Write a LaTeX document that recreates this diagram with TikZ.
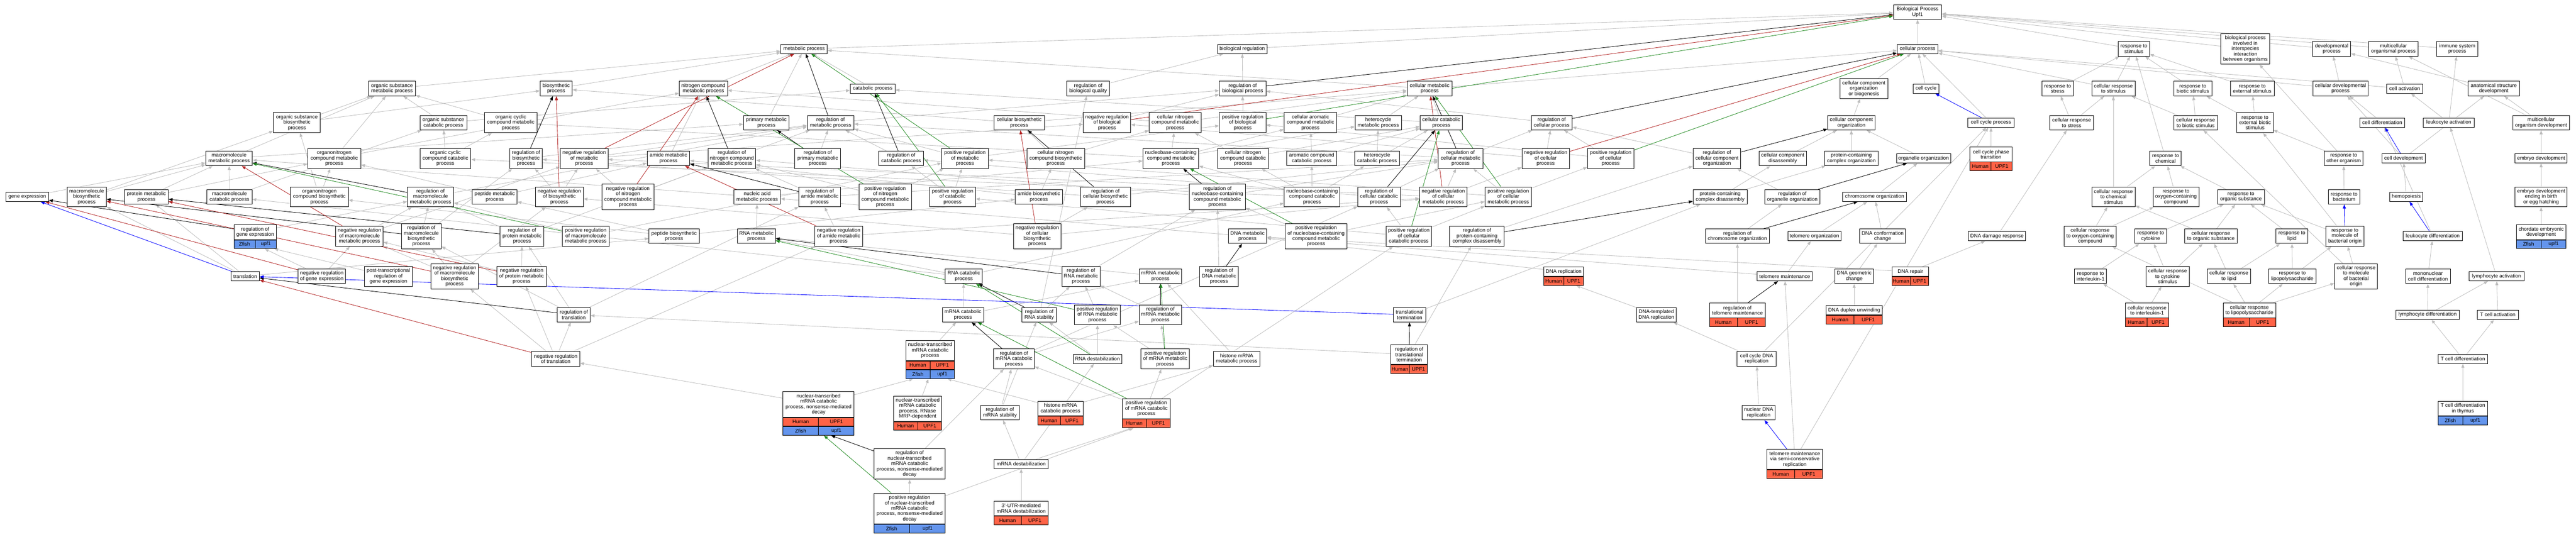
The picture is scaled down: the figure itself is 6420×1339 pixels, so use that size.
\documentclass[tikz,border=0pt]{standalone}
\usepackage{fontspec}
\setmainfont{Liberation Sans}
\usepackage{tikz}
\usetikzlibrary{arrows.meta,calc,backgrounds}
\definecolor{humred}{HTML}{FF6347}
\definecolor{fishblue}{HTML}{6495ED}
\definecolor{isagray}{HTML}{BEBEBE}
\definecolor{negred}{HTML}{B22222}
\definecolor{posgreen}{HTML}{228B22}
\def\termfont{\fontsize{12.8}{13.4}\selectfont}
\newcommand\goterm[6]{\node[term,minimum width=#4,minimum height={9.6+13.4*#5}] (#1) at (#2,#3) {#6};}
\newcommand\gorow[6]{%
  \node[#3,minimum width=#4,anchor=north] (#2) at (#1) {};
  \draw[line width=1.2pt] (#2.north) -- (#2.south);
  \path ($(#2.west)!0.5!(#2.center)$) node[font=\termfont] {#5};
  \path ($(#2.center)!0.5!(#2.east)$) node[font=\termfont] {#6};}
\newcommand\hrow[3]{\gorow{#1}{#2}{hum}{#3}{Human}{UPF1}}
\newcommand\zrow[3]{\gorow{#1}{#2}{fish}{#3}{Zfish}{upf1}}
\tikzset{
  term/.style={draw,line width=1.2pt,fill=white,align=center,inner sep=1pt,font=\termfont},
  hum/.style={draw,line width=1.2pt,fill=humred,minimum height=21.5,inner sep=0pt},
  fish/.style={draw,line width=1.2pt,fill=fishblue,minimum height=21.5,inner sep=0pt},
  isa/.style={color=isagray,line width=1.1pt,-{Triangle[length=10pt,width=7.5pt]}},
  regs/.style={isa,color=black},
  negreg/.style={isa,color=negred},
  posreg/.style={isa,color=posgreen},
  partof/.style={isa,color=blue}
}
\begin{document}
\begin{tikzpicture}[x=1pt,y=-1pt]
\useasboundingbox (0,0) rectangle (6420,1339);

\goterm{bp}{4779}{30}{120}{2}{Biological Process\\Upf1}

\goterm{metab}{2004}{122}{116}{1}{metabolic process}
\goterm{bioreg}{3096}{122}{123}{1}{biological regulation}
\goterm{cellproc}{4779}{122}{101}{1}{cellular process}
\goterm{respstim}{5318}{122}{78}{2}{response to\\stimulus}
\goterm{interspecies}{5596}{122}{122}{5}{biological process\\involved in\\interspecies\\interaction\\between organisms}
\goterm{devproc}{5811}{122}{95}{2}{developmental\\process}
\goterm{multiorgproc}{5965}{122}{123}{2}{multicellular\\organismal process}
\goterm{immsys}{6124}{122}{103}{2}{immune system\\process}

\goterm{orgsubmet}{977}{221}{116}{2}{organic substance\\metabolic process}
\goterm{biosyn}{1386}{221}{80}{2}{biosynthetic\\process}
\goterm{nitmet}{1753}{221}{120}{2}{nitrogen compound\\metabolic process}
\goterm{catab}{2175}{221}{112}{1}{catabolic process}
\goterm{regbioqual}{2712}{221}{106}{2}{regulation of\\biological quality}
\goterm{regbioproc}{3097}{221}{116}{2}{regulation of\\biological process}
\goterm{cellmet}{3563}{221}{112}{2}{cellular metabolic\\process}
\goterm{ccorgbio}{4645}{221}{119}{3}{cellular component\\organization\\or biogenesis}
\goterm{cellcycle}{4800}{221}{65}{1}{cell cycle}
\goterm{respstress}{5128}{221}{79}{2}{response to\\stress}
\goterm{cellrespstim}{5267}{221}{108}{2}{cellular response\\to stimulus}
\goterm{respbiotic}{5465}{221}{95}{2}{response to\\biotic stimulus}
\goterm{respext}{5613}{221}{109}{2}{response to\\external stimulus}
\goterm{celldevproc}{5833}{221}{138}{2}{cellular developmental\\process}
\goterm{cellact}{5993}{221}{90}{1}{cell activation}
\goterm{anatdev}{6215}{221}{128}{2}{anatomical structure\\development}

\goterm{orgsubbiosyn}{740}{306}{117}{3}{organic substance\\biosynthetic\\process}
\goterm{orgsubcat}{1105}{306}{117}{2}{organic substance\\catabolic process}
\goterm{orgcycmet}{1273}{306}{130}{3}{organic cyclic\\compound metabolic\\process}
\goterm{primmet}{1910}{306}{114}{2}{primary metabolic\\process}
\goterm{regmet}{2070}{306}{116}{2}{regulation of\\metabolic process}
\goterm{cellbiosyn}{2540}{306}{126}{2}{cellular biosynthetic\\process}
\goterm{negregbio}{2759}{306}{118}{3}{negative regulation\\of biological\\process}
\goterm{cellnitmet}{2929}{306}{130}{3}{cellular nitrogen\\compound metabolic\\process}
\goterm{posregbio}{3097}{306}{116}{3}{positive regulation\\of biological\\process}
\goterm{cellaromet}{3266}{306}{131}{3}{cellular aromatic\\compound metabolic\\process}
\goterm{hetmet}{3435}{306}{116}{2}{heterocycle\\metabolic process}
\goterm{cellcat}{3592}{306}{106}{2}{cellular catabolic\\process}
\goterm{regcellproc}{3867}{306}{102}{2}{regulation of\\cellular process}
\goterm{ccorg}{4614}{306}{118}{2}{cellular component\\organization}
\goterm{cellcycproc}{4962}{306}{115}{1}{cell cycle process}
\goterm{cellrespstress}{5163}{306}{109}{2}{cellular response\\to stress}
\goterm{cellrespbiotic}{5472}{306}{109}{2}{cellular response\\to biotic stimulus}
\goterm{respextbiotic}{5620}{306}{90}{3}{response to\\external biotic\\stimulus}
\goterm{celldiff}{5937}{306}{112}{1}{cell differentiation}
\goterm{leukact}{6103}{306}{127}{1}{leukocyte activation}
\goterm{multiorgdev}{6333}{306}{141}{2}{multicellular\\organism development}

\goterm{macmet}{571}{395}{116}{2}{macromolecule\\metabolic process}
\goterm{orgnitmet}{833}{395}{132}{3}{organonitrogen\\compound metabolic\\process}
\goterm{orgcyccat}{1110}{395}{127}{3}{organic cyclic\\compound catabolic\\process}
\goterm{regbiosyn}{1311}{395}{81}{3}{regulation of\\biosynthetic\\process}
\goterm{negregmet}{1456}{395}{119}{3}{negative regulation\\of metabolic\\process}
\goterm{amidemet}{1666}{395}{106}{2}{amide metabolic\\process}
\goterm{regnitmet}{1824}{395}{119}{3}{regulation of\\nitrogen compound\\metabolic process}
\goterm{regprimmet}{2038}{395}{114}{3}{regulation of\\primary metabolic\\process}
\goterm{regcat}{2246}{395}{112}{2}{regulation of\\catabolic process}
\goterm{posregmet}{2405}{395}{116}{3}{positive regulation\\of metabolic\\process}
\goterm{cellnitbiosyn}{2631}{395}{144}{3}{cellular nitrogen\\compound biosynthetic\\process}
\goterm{nucmet}{2918}{395}{139}{3}{nucleobase-containing\\compound metabolic\\process}
\goterm{cellnitcat}{3098}{395}{127}{3}{cellular nitrogen\\compound catabolic\\process}
\goterm{arocat}{3269}{395}{124}{2}{aromatic compound\\catabolic process}
\goterm{hetcat}{3432}{395}{112}{2}{heterocycle\\catabolic process}
\goterm{regcellmet}{3640}{395}{111}{3}{regulation of\\cellular metabolic\\process}
\goterm{negregcell}{3852}{395}{118}{3}{negative regulation\\of cellular\\process}
\goterm{posregcell}{4014}{395}{115}{3}{positive regulation\\of cellular\\process}
\goterm{regccorg}{4279}{395}{119}{3}{regulation of\\cellular component\\organization}
\goterm{ccdis}{4443}{395}{118}{2}{cellular component\\disassembly}
\goterm{pcorg}{4614}{395}{134}{2}{protein-containing\\complex organization}
\goterm{organorg}{4794}{395}{135}{1}{organelle organization}
\goterm{cellcycphase}{4962}{385}{106}{2}{cell cycle phase\\transition}
\hrow{cellcycphase.south}{cellcycphaseh}{106}
\goterm{respchem}{5397}{395}{78}{2}{response to\\chemical}
\goterm{respother}{5841}{395}{96}{2}{response to\\other organism}
\goterm{celldev}{5990}{395}{108}{1}{cell development}
\goterm{embdev}{6333}{395}{130}{1}{embryo development}

\goterm{geneexp}{68}{491}{106}{1}{gene expression}
\goterm{macbiosyn}{216}{491}{98}{3}{macromolecule\\biosynthetic\\process}
\goterm{protmet}{365}{491}{109}{2}{protein metabolic\\process}
\goterm{maccat}{572}{491}{112}{2}{macromolecule\\catabolic process}
\goterm{orgnitbiosyn}{796}{491}{144}{3}{organonitrogen\\compound biosynthetic\\process}
\goterm{regmacmet}{1073}{491}{115}{3}{regulation of\\macromolecule\\metabolic process}
\goterm{peptmet}{1233}{491}{112}{2}{peptide metabolic\\process}
\goterm{negregbiosyn}{1394}{491}{119}{3}{negative regulation\\of biosynthetic\\process}
\goterm{negregnitmet}{1565}{491}{130}{4}{negative regulation\\of nitrogen\\compound metabolic\\process}
\goterm{nucacidmet}{1887}{491}{116}{2}{nucleic acid\\metabolic process}
\goterm{regamidemet}{2043}{491}{104}{3}{regulation of\\amide metabolic\\process}
\goterm{posregnitmet}{2206}{491}{131}{4}{positive regulation\\of nitrogen\\compound metabolic\\process}
\goterm{posregcat}{2374}{491}{114}{3}{positive regulation\\of catabolic\\process}
\goterm{amidebiosyn}{2589}{491}{118}{2}{amide biosynthetic\\process}
\goterm{regcellbiosyn}{2755}{491}{125}{3}{regulation of\\cellular biosynthetic\\process}
\goterm{regnucmet}{3034}{491}{139}{4}{regulation of\\nucleobase-containing\\compound metabolic\\process}
\goterm{nuccat}{3270}{491}{139}{3}{nucleobase-containing\\compound catabolic\\process}
\goterm{regcellcat}{3437}{491}{106}{3}{regulation of\\cellular catabolic\\process}
\goterm{negregcellmet}{3597}{491}{118}{3}{negative regulation\\of cellular\\metabolic process}
\goterm{posregcellmet}{3759}{491}{116}{3}{positive regulation\\of cellular\\metabolic process}
\goterm{pcdis}{4287}{491}{135}{2}{protein-containing\\complex disassembly}
\goterm{regorganorg}{4467}{491}{137}{2}{regulation of\\organelle organization}
\goterm{chromorg}{4672}{491}{159}{1}{chromosome organization}
\goterm{cellrespchem}{5267}{491}{108}{3}{cellular response\\to chemical\\stimulus}
\goterm{respoxy}{5423}{491}{114}{3}{response to\\oxygen-containing\\compound}
\goterm{resporg}{5585}{491}{117}{2}{response to\\organic substance}
\goterm{respbact}{5842}{491}{78}{2}{response to\\bacterium}
\goterm{hemo}{5997}{491}{82}{1}{hemopoiesis}
\goterm{embdevbirth}{6333}{491}{130}{3}{embryo development\\ending in birth\\or egg hatching}

\goterm{reggeneexp}{636}{579}{105}{2}{regulation of\\gene expression}
\zrow{reggeneexp.south}{reggeneexpz}{105}
\goterm{negregmacmet}{896}{589}{118}{3}{negative regulation\\of macromolecule\\metabolic process}
\goterm{regmacbiosyn}{1050}{589}{99}{4}{regulation of\\macromolecule\\biosynthetic\\process}
\goterm{regprotmet}{1301}{589}{109}{3}{regulation of\\protein metabolic\\process}
\goterm{posregmacmet}{1460}{589}{116}{3}{positive regulation\\of macromolecule\\metabolic process}
\goterm{peptbiosyn}{1680}{589}{125}{2}{peptide biosynthetic\\process}
\goterm{rnamet}{1885}{589}{95}{2}{RNA metabolic\\process}
\goterm{negregamidemet}{2090}{589}{119}{3}{negative regulation\\of amide metabolic\\process}
\goterm{negregcellbiosyn}{2585}{589}{118}{4}{negative regulation\\of cellular\\biosynthetic\\process}
\goterm{dnamet}{3109}{589}{96}{2}{DNA metabolic\\process}
\goterm{posregnucmet}{3280}{589}{155}{4}{positive regulation\\of nucleobase-containing\\compound metabolic\\process}
\goterm{posregcellcat}{3511}{589}{114}{3}{positive regulation\\of cellular\\catabolic process}
\goterm{regpcdis}{3681}{589}{136}{3}{regulation of\\protein-containing\\complex disassembly}
\goterm{regchromorg}{4330}{589}{159}{2}{regulation of\\chromosome organization}
\goterm{telorg}{4522}{589}{133}{1}{telomere organization}
\goterm{dnaconf}{4692}{589}{114}{2}{DNA conformation\\change}
\goterm{dnadamage}{4977}{589}{143}{1}{DNA damage response}
\goterm{cellrespoxy}{5209}{589}{130}{3}{cellular response\\to oxygen-containing\\compound}
\goterm{respcyto}{5360}{589}{79}{2}{response to\\cytokine}
\goterm{cellresporg}{5510}{589}{131}{2}{cellular response\\to organic substance}
\goterm{resplipid}{5712}{589}{79}{2}{response to\\lipid}
\goterm{respmolbact}{5844}{589}{95}{3}{response to\\molecule of\\bacterial origin}
\goterm{leukdiff}{6063}{589}{148}{1}{leukocyte differentiation}
\goterm{chordemb}{6333}{579}{124}{2}{chordate embryonic\\development}
\zrow{chordemb.south}{chordembz}{124}

\goterm{translation}{611}{689}{71}{1}{translation}
\goterm{negreggeneexp}{802}{689}{119}{2}{negative regulation\\of gene expression}
\goterm{posttrans}{968}{689}{120}{3}{post-transcriptional\\regulation of\\gene expression}
\goterm{negregmacbiosyn}{1133}{689}{119}{4}{negative regulation\\of macromolecule\\biosynthetic\\process}
\goterm{negregprotmet}{1300}{689}{123}{3}{negative regulation\\of protein metabolic\\process}
\goterm{rnacat}{2402}{689}{92}{2}{RNA catabolic\\process}
\goterm{regrnamet}{2694}{689}{95}{3}{regulation of\\RNA metabolic\\process}
\goterm{mrnamet}{2892}{689}{106}{2}{mRNA metabolic\\process}
\goterm{regdnamet}{3038}{689}{96}{3}{regulation of\\DNA metabolic\\process}
\goterm{dnarep}{3897}{677.5}{99}{1}{DNA replication}
\hrow{dnarep.south}{dnareph}{99}
\goterm{telmaint}{4448}{689}{138}{1}{telomere maintenance}
\goterm{dnageo}{4621}{689}{97}{2}{DNA geometric\\change}
\goterm{dnarepair}{4761}{677.5}{92}{1}{DNA repair}
\hrow{dnarepair.south}{dnarepairh}{92}
\goterm{respil1}{5210}{689}{79}{2}{response to\\interleukin-1}
\goterm{cellrespcyto}{5402}{689}{108}{3}{cellular response\\to cytokine\\stimulus}
\goterm{cellresplipid}{5555}{689}{108}{2}{cellular response\\to lipid}
\goterm{resplps}{5713}{689}{117}{2}{response to\\lipopolysaccharide}
\goterm{cellrespmolbact}{5872}{689}{107}{4}{cellular response\\to molecule\\of bacterial\\origin}
\goterm{mononuc}{6051}{689}{112}{2}{mononuclear\\cell differentiation}
\goterm{lymphact}{6222}{689}{137}{1}{lymphocyte activation}

\goterm{regtrans}{1430}{785}{82}{2}{regulation of\\translation}
\goterm{mrnacat}{2400}{785}{103}{2}{mRNA catabolic\\process}
\goterm{regrnastab}{2590}{785}{86}{2}{regulation of\\RNA stability}
\goterm{posregrnamet}{2735}{785}{115}{3}{positive regulation\\of RNA metabolic\\process}
\goterm{regmrnamet}{2892}{785}{106}{3}{regulation of\\mRNA metabolic\\process}
\goterm{transterm}{3513}{785}{80}{2}{translational\\termination}
\goterm{dnatemp}{4128}{785}{98}{2}{DNA-templated\\DNA replication}
\goterm{regtelmaint}{4330}{774}{139}{2}{regulation of\\telomere maintenance}
\hrow{regtelmaint.south}{regtelmainth}{139}
\goterm{dnaduplex}{4621}{774}{139}{1}{DNA duplex unwinding}
\hrow{dnaduplex.south}{dnaduplexh}{139}
\goterm{cellrespil1}{5351}{774}{108}{2}{cellular response\\to interleukin-1}
\hrow{cellrespil1.south}{cellrespil1h}{108}
\goterm{cellresplps}{5606}{774}{131}{2}{cellular response\\to lipopolysaccharide}
\hrow{cellresplps.south}{cellresplpsh}{131}
\goterm{lymphdiff}{6050}{785}{158}{1}{lymphocyte differentiation}
\goterm{tcellact}{6225}{785}{103}{1}{T cell activation}

\goterm{negregtrans}{1385}{895}{120}{2}{negative regulation\\of translation}
\goterm{nmrnacat}{2318}{874}{121}{3}{nuclear-transcribed\\mRNA catabolic\\process}
\hrow{nmrnacat.south}{nmrnacath}{121}
\zrow{nmrnacath.south}{nmrnacatz}{121}
\goterm{regmrnacat}{2527}{895}{102}{3}{regulation of\\mRNA catabolic\\process}
\goterm{rnadestab}{2735}{895}{121}{1}{RNA destabilization}
\goterm{posregmrnamet}{2904}{895}{121}{3}{positive regulation\\of mRNA metabolic\\process}
\goterm{histmet}{3082}{895}{116}{2}{histone mRNA\\metabolic process}
\goterm{regtransterm}{3512}{884}{91}{3}{regulation of\\translational\\termination}
\hrow{regtransterm.south}{regtranstermh}{91}
\goterm{cellcycdna}{4378}{895}{97}{2}{cell cycle DNA\\replication}
\goterm{tcelldiff}{6138}{895}{124}{1}{T cell differentiation}

\goterm{nmd}{2040}{1008.5}{177}{4}{nuclear-transcribed\\mRNA catabolic\\process, nonsense-mediated\\decay}
\hrow{nmd.south}{nmdh}{177}
\zrow{nmdh.south}{nmdz}{177}
\goterm{nmrnamrp}{2287}{1019}{120}{4}{nuclear-transcribed\\mRNA catabolic\\process, RNase\\MRP-dependent}
\hrow{nmrnamrp.south}{nmrnamrph}{120}
\goterm{regmrnastab}{2492}{1029}{96}{2}{regulation of\\mRNA stability}
\goterm{histcat}{2643}{1019}{113}{2}{histone mRNA\\catabolic process}
\hrow{histcat.south}{histcath}{113}
\goterm{posregmrnacat}{2857}{1019}{119}{3}{positive regulation\\of mRNA catabolic\\process}
\hrow{posregmrnacat.south}{posregmrnacath}{119}
\goterm{nucdna}{4383}{1029}{83}{2}{nuclear DNA\\replication}
\goterm{tcellthym}{6138}{1019}{124}{2}{T cell differentiation\\in thymus}
\zrow{tcellthym.south}{tcellthymz}{124}

\goterm{regnmd}{2267}{1157}{178}{5}{regulation of\\nuclear-transcribed\\mRNA catabolic\\process, nonsense-mediated\\decay}
\goterm{mrnadestab}{2545}{1157}{135}{1}{mRNA destabilization}
\goterm{telsemi}{4473}{1145.5}{139}{3}{telomere maintenance\\via semi-conservative\\replication}
\hrow{telsemi.south}{telsemih}{139}

\goterm{posregnmd}{2267}{1268.5}{178}{5}{positive regulation\\of nuclear-transcribed\\mRNA catabolic\\process, nonsense-mediated\\decay}
\zrow{posregnmd.south}{posregnmdz}{178}
\goterm{utr3}{2545}{1268}{135}{2}{3'-UTR-mediated\\mRNA destabilization}
\hrow{utr3.south}{utr3h}{135}

\begin{scope}[on background layer]
\fill[white] (0,0) rectangle (6420,1339);
\foreach \a/\b in {metab/bp, bioreg/bp, cellproc/bp, respstim/bp, interspecies/bp, devproc/bp, multiorgproc/bp, immsys/bp,
  regbioproc/bioreg, regbioqual/bioreg, negregbio/regbioproc, posregbio/regbioproc,
  orgsubmet/metab, biosyn/metab, nitmet/metab, catab/metab, cellmet/metab, cellmet/cellproc, primmet/metab,
  regmet/regbioproc, negregmet/regmet, negregmet/negregbio, posregmet/regmet, posregmet/posregbio,
  regcellproc/regbioproc, negregcell/regcellproc, negregcell/negregbio, posregcell/regcellproc, posregcell/posregbio,
  orgsubbiosyn/orgsubmet, orgsubbiosyn/biosyn, orgsubcat/orgsubmet, orgsubcat/catab, orgcycmet/orgsubmet,
  cellbiosyn/biosyn, cellbiosyn/cellmet, cellnitmet/nitmet, cellnitmet/cellmet, cellaromet/cellmet, hetmet/cellmet,
  cellcat/catab, cellcat/cellmet, ccorgbio/cellproc, cellcycle/cellproc, respstress/respstim, cellrespstim/respstim,
  cellrespstim/cellproc, respbiotic/respstim, respext/respstim, celldevproc/devproc, celldevproc/cellproc,
  cellact/cellproc, cellact/multiorgproc, anatdev/devproc, ccorg/ccorgbio, cellcycproc/cellproc,
  cellrespstress/respstress, cellrespstress/cellrespstim, cellrespbiotic/respbiotic, cellrespbiotic/cellrespstim,
  respextbiotic/respbiotic, respextbiotic/respext, celldiff/celldevproc, leukact/cellact, leukact/immsys,
  multiorgdev/anatdev, multiorgdev/multiorgproc,
  macmet/orgsubmet, macmet/primmet, orgnitmet/orgsubmet, orgnitmet/nitmet, orgcyccat/orgcycmet, orgcyccat/orgsubcat,
  regbiosyn/regmet, amidemet/nitmet, regnitmet/regmet, regprimmet/regmet, regcat/regmet,
  cellnitbiosyn/cellnitmet, cellnitbiosyn/cellbiosyn, nucmet/cellaromet, nucmet/hetmet, nucmet/orgcycmet, nucmet/cellnitmet,
  cellnitcat/cellnitmet, cellnitcat/cellcat, arocat/cellaromet, arocat/cellcat, hetcat/hetmet, hetcat/cellcat,
  regcellmet/regmet, regcellmet/regcellproc, regccorg/regcellproc, ccdis/ccorg, pcorg/ccorg, organorg/ccorg,
  cellcycphase/cellcycproc, respchem/respstim, respother/respextbiotic, respother/interspecies,
  celldev/celldevproc, celldev/anatdev, embdev/multiorgdev,
  macbiosyn/macmet, macbiosyn/orgsubbiosyn, geneexp/macmet, protmet/macmet, protmet/orgnitmet, maccat/macmet,
  maccat/orgsubcat, orgnitbiosyn/orgnitmet, orgnitbiosyn/orgsubbiosyn, regmacmet/regmet, peptmet/amidemet,
  peptmet/orgnitmet, negregbiosyn/regbiosyn, negregbiosyn/negregmet, negregnitmet/regnitmet, negregnitmet/negregmet,
  nucacidmet/nucmet, nucacidmet/macmet, regamidemet/regnitmet, regamidemet/regcellmet, posregnitmet/regnitmet,
  posregnitmet/posregmet, posregcat/regcat, posregcat/posregmet, amidebiosyn/amidemet, amidebiosyn/cellnitbiosyn,
  regcellbiosyn/regbiosyn, regcellbiosyn/regcellmet, regnucmet/regcellmet, regnucmet/regnitmet,
  nuccat/nucmet, nuccat/arocat, nuccat/hetcat, nuccat/cellnitcat, nuccat/orgcyccat, regcellcat/regcat,
  regcellcat/regcellmet, negregcellmet/regcellmet, negregcellmet/negregmet, negregcellmet/negregcell,
  posregcellmet/regcellmet, posregcellmet/posregmet, posregcellmet/posregcell, pcdis/ccdis, pcdis/pcorg,
  regorganorg/regccorg, chromorg/organorg, cellrespchem/respchem, cellrespchem/cellrespstim, respoxy/respchem,
  resporg/respchem, respbact/respother, hemo/celldev, embdevbirth/embdev,
  reggeneexp/regmacmet, negregmacmet/regmacmet, negregmacmet/negregmet, regmacbiosyn/regmacmet, regmacbiosyn/regbiosyn,
  regprotmet/regmacmet, regprotmet/regnitmet, posregmacmet/regmacmet, posregmacmet/posregmet,
  peptbiosyn/peptmet, peptbiosyn/amidebiosyn, peptbiosyn/orgnitbiosyn, rnamet/nucacidmet,
  negregamidemet/regamidemet, negregamidemet/negregcellmet, negregcellbiosyn/regcellbiosyn,
  negregcellbiosyn/negregbiosyn, negregcellbiosyn/negregcellmet, dnamet/nucacidmet, posregnucmet/regnucmet,
  posregnucmet/posregcellmet, posregcellcat/regcellcat, posregcellcat/posregcat, posregcellcat/posregcellmet,
  regpcdis/regccorg, regchromorg/regorganorg, telorg/chromorg, dnaconf/chromorg, dnadamage/cellrespstress,
  cellrespoxy/cellrespchem, cellrespoxy/respoxy, respcyto/resporg, cellresporg/cellrespchem, cellresporg/resporg,
  resplipid/resporg, respmolbact/respextbiotic, respmolbact/resporg, leukdiff/celldiff, chordemb/embdevbirth,
  translation/macbiosyn, translation/protmet, translation/peptbiosyn, negreggeneexp/reggeneexpz,
  negreggeneexp/negregmacmet, posttrans/reggeneexpz, negregmacbiosyn/regmacbiosyn, negregmacbiosyn/negregbiosyn,
  negregmacbiosyn/negregmacmet, negregprotmet/regprotmet, negregprotmet/negregmacmet, rnacat/rnamet, rnacat/nuccat,
  rnacat/maccat, regrnamet/regnucmet, mrnamet/rnamet, regdnamet/regnucmet, dnarep/dnamet, telmaint/telorg,
  telmaint/dnamet, dnageo/dnaconf, dnarepair/dnadamage, dnarepair/dnamet, respil1/respcyto, cellrespcyto/respcyto,
  cellrespcyto/cellresporg, cellresplipid/cellresporg, cellresplipid/resplipid, resplps/resplipid, resplps/respmolbact,
  cellrespmolbact/respmolbact, cellrespmolbact/cellrespbiotic, mononuc/leukdiff, lymphact/leukact,
  regtrans/regprotmet, regtrans/regmacbiosyn, regtrans/regamidemet, mrnacat/mrnamet, mrnacat/rnacat,
  regrnastab/regrnamet, regrnastab/regbioqual, posregrnamet/regrnamet, regmrnamet/regrnamet, transterm/pcdis,
  dnatemp/dnareph, regtelmaint/regchromorg, dnaduplex/dnageo, cellrespil1/respil1, cellrespil1/cellrespcyto,
  cellresplps/cellresplipid, cellresplps/resplps, cellresplps/cellrespmolbact, cellresplps/cellrespoxy,
  lymphdiff/mononuc, lymphdiff/lymphact, tcellact/lymphact,
  negregtrans/regtrans, negregtrans/negregprotmet, negregtrans/negregmacbiosyn, negregtrans/negregamidemet,
  nmrnacat/mrnacat, regmrnacat/regmrnamet, regmrnacat/regcellcat, rnadestab/regrnastab, rnadestab/posregrnamet,
  posregmrnamet/regmrnamet, posregmrnamet/posregrnamet, histmet/mrnamet, regtransterm/regtrans, regtransterm/regpcdis,
  cellcycdna/dnatemp, cellcycdna/cellcycproc, tcelldiff/lymphdiff, tcelldiff/tcellact,
  nmd/nmrnacatz, nmd/negregtrans, nmrnamrp/nmrnacatz, regmrnastab/regrnastab, regmrnastab/regmrnacat,
  histcat/histmet, histcat/nmrnacatz, posregmrnacat/regmrnacat, posregmrnacat/posregmrnamet,
  posregmrnacat/posregcellcat, nucdna/cellcycdna, tcellthym/tcelldiff,
  regnmd/regmrnacat, mrnadestab/regmrnastab, mrnadestab/rnadestab, mrnadestab/posregmrnacath,
  telsemi/telmaint, telsemi/cellcycproc, posregnmd/regnmd, posregnmd/posregmrnacath, utr3/mrnadestab}
  \draw[isa] (\a) -- (\b);
\foreach \a/\b in {regbioproc/bp, regmet/metab, regcellproc/cellproc, regbiosyn/biosyn, regnitmet/nitmet,
  regprimmet/primmet, regcat/catab, regcellmet/cellmet, regccorg/ccorg, reggeneexp/geneexp, regmacmet/macmet,
  regamidemet/amidemet, regcellbiosyn/cellbiosyn, regnucmet/nucmet, regcellcat/cellcat, regorganorg/organorg,
  regmacbiosyn/macbiosyn, regprotmet/protmet, regpcdis/pcdis, regchromorg/chromorg, regtrans/translation,
  regrnamet/rnamet, regdnamet/dnamet, regrnastab/rnacat, regmrnamet/mrnamet, regtelmaint/telmaint,
  regmrnacat/mrnacat, regtransterm/transterm, regnmd/nmdz}
  \draw[regs] (\a) -- (\b);
\foreach \a/\b in {negregbio/bp, negregmet/metab, negregcell/cellproc, negregbiosyn/biosyn, negregnitmet/nitmet,
  negregmacmet/macmet, negregamidemet/amidemet, negregcellbiosyn/cellbiosyn, negregcellmet/cellmet,
  negreggeneexp/geneexp, negregmacbiosyn/macbiosyn, negregprotmet/protmet, negregtrans/translation}
  \draw[negreg] (\a) -- (\b);
\foreach \a/\b in {posregbio/bp, posregmet/metab, posregcell/cellproc, posregnitmet/nitmet, posregcat/catab,
  posregmacmet/macmet, posregcellmet/cellmet, posregnucmet/nucmet, posregcellcat/cellcat, posregrnamet/rnamet,
  posregmrnamet/mrnamet, posregmrnacat/mrnacat, rnadestab/rnacat, posregnmd/nmdz}
  \draw[posreg] (\a) -- (\b);
\foreach \a/\b in {translation/geneexp, transterm/translation, cellcycproc/cellcycle, celldev/celldiff,
  leukdiff/hemo, respmolbact/respbact, telsemi/nucdna}
  \draw[partof] (\a) -- (\b);
\end{scope}
\end{tikzpicture}
\end{document}
